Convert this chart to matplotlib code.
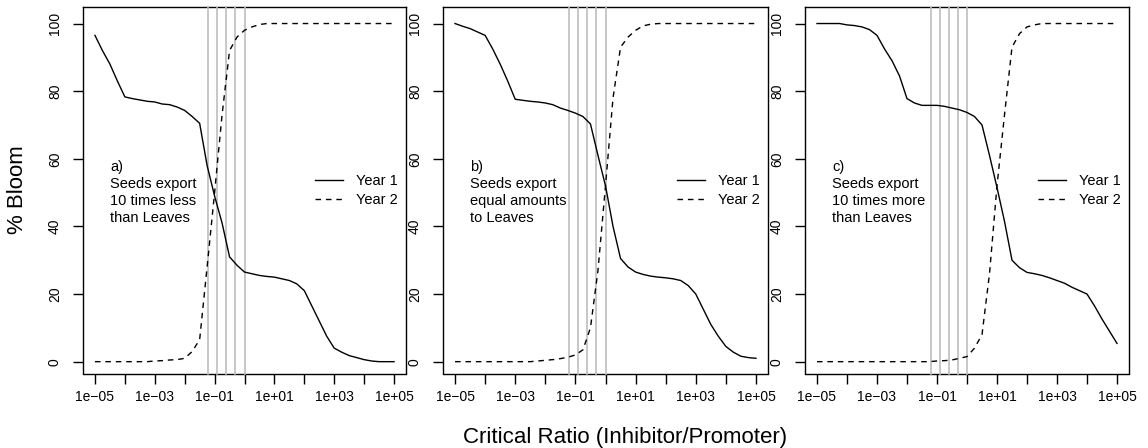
import matplotlib
matplotlib.use("Agg")
import matplotlib.pyplot as plt
import numpy as np

plt.rcParams['font.family'] = ['Liberation Sans', 'DejaVu Sans']

# log10 of Critical Ratio (sampling grid of the curves)
log_ratio = [-5, -4.75, -4.5, -4.25, -4, -3.75, -3.5, -3.25, -3, -2.75, -2.5,
             -2.25, -2, -1.75, -1.5, -1.25, -1, -0.75, -0.5, -0.25, 0,
             0.25, 0.5, 0.75, 1, 1.25, 1.5, 1.75, 2, 2.25, 2.5,
             2.75, 3, 3.25, 3.5, 3.75, 4, 4.25, 4.5, 4.75, 5]

a_year1 = [96.5, 92, 88, 83, 78.3, 77.8, 77.4, 77, 76.8, 76.2, 76,
           75.3, 74.3, 72.5, 70.5, 58, 49, 41, 31, 28.5, 26.5,
           26, 25.5, 25.2, 25, 24.5, 24, 23, 21, 16.5, 12,
           7.5, 4, 2.8, 1.8, 1.2, 0.6, 0.2, 0, 0, 0]
a_year2 = [0, 0, 0, 0, 0, 0, 0, 0, 0.2, 0.3, 0.5,
           0.6, 1, 3, 6.5, 28, 50, 73, 92, 96, 98,
           99, 99.7, 100, 100, 100, 100, 100, 100, 100, 100,
           100, 100, 100, 100, 100, 100, 100, 100, 100, 100]

b_year1 = [100, 99.2, 98.5, 97.5, 96.5, 92.5, 88, 83, 77.6, 77.3, 77,
           76.8, 76.5, 76, 75, 74.3, 73.5, 72.5, 70.3, 61, 52,
           40, 30.5, 28, 26.5, 25.8, 25.3, 25, 24.8, 24.5, 24,
           22.5, 20, 15.5, 11, 7.5, 4.5, 2.8, 1.6, 1.2, 1]
b_year2 = [0, 0, 0, 0, 0, 0, 0, 0, 0, 0, 0,
           0.2, 0.4, 0.6, 0.9, 1.3, 2, 3.5, 10, 27, 52,
           78, 93, 96, 98, 99.3, 99.8, 100, 100, 100, 100,
           100, 100, 100, 100, 100, 100, 100, 100, 100, 100]

c_year1 = [100, 100, 100, 100, 99.6, 99.4, 99, 98.2, 96.5, 92.5, 89,
           84.5, 77.8, 76.5, 75.8, 75.8, 75.8, 75.5, 75, 74.5, 73.7,
           72.5, 70, 61, 51.5, 41.5, 30, 27.8, 26.4, 26, 25.5,
           24.8, 24, 23.2, 22, 21, 20, 16.5, 12.6, 9, 5.4]
c_year2 = [0, 0, 0, 0, 0, 0, 0, 0, 0, 0, 0,
           0, 0, 0, 0, 0, 0.2, 0.3, 0.5, 1, 1.5,
           4, 8, 26, 52, 73, 93, 97, 99, 99.6, 100,
           100, 100, 100, 100, 100, 100, 100, 100, 100, 100]

# reference ratios marked by grey vertical lines
ref_ratios = [0.0625, 0.125, 0.25, 0.5, 1]

panel_texts = ["a)\nSeeds export\n10 times less\nthan Leaves",
               "b)\nSeeds export\nequal amounts\nto Leaves",
               "c)\nSeeds export\n10 times more\nthan Leaves"]
series = [(a_year1, a_year2), (b_year1, b_year2), (c_year1, c_year2)]
legend_labels = ["Year 1", "Year 2"]

xtick_exps = list(range(-5, 6))
ytick_vals = [0, 20, 40, 60, 80, 100]

W, H = 1148, 448
fig = plt.figure(figsize=(W / 100, H / 100), dpi=100)

lefts = [83, 443, 805]
rights = [406, 768, 1129]
top_px, bot_px = 7.3, 373.5

x = [10.0 ** v for v in log_ratio]

for i in range(3):
    ax = fig.add_axes([lefts[i] / W, 1 - bot_px / H,
                       (rights[i] - lefts[i]) / W, (bot_px - top_px) / H])
    for r in ref_ratios:
        ax.axvline(r, color='#bebebe', lw=1.2, zorder=3, clip_on=False,
                   ymin=0, ymax=1)
    y1, y2 = series[i]
    ax.plot(x, y1, color='black', lw=1.0, label=legend_labels[0], zorder=4)
    ax.plot(x, y2, color='black', lw=1.0, dashes=(4, 3.5),
            label=legend_labels[1], zorder=4)
    ax.set_xscale('log')
    ax.set_xlim(10 ** -5.4, 10 ** 5.4)
    ax.set_ylim(-3.5, 104.8)
    ax.set_xticks([10.0 ** e for e in xtick_exps])
    ax.set_xticklabels([("1e%s%02d" % ("\u2212" if e < 0 else "+", abs(e)))
                        if (e % 2 == 1 or e % 2 == -1) else ""
                        for e in xtick_exps], fontsize=10)
    ax.minorticks_off()
    ax.set_yticks(ytick_vals)
    ax.set_yticklabels([str(v) for v in ytick_vals], fontsize=10,
                       rotation=90, va='center')
    ax.tick_params(axis='x', length=7.2, width=1.0, pad=5, direction='out')
    ax.tick_params(axis='y', length=7.2, width=1.0, pad=8, direction='out')
    for s in ax.spines.values():
        s.set_linewidth(1.0)
        s.set_zorder(2)
    ax.text(10 ** -4.5, 50, panel_texts[i], fontsize=10.5, ha='left',
            va='center', linespacing=1.27, zorder=5)
    leg = ax.legend(loc='center right', bbox_to_anchor=(0.975, 0.5),
                    frameon=False, fontsize=10.5, handlelength=1.9,
                    handletextpad=0.9, labelspacing=0.38, borderpad=0,
                    borderaxespad=0)

fig.text(18 / W, 1 - 190 / H, "% Bloom", rotation=90, ha='center',
         va='center', fontsize=16)
fig.text(625 / W, 1 - 437 / H, "Critical Ratio (Inhibitor/Promoter)",
         ha='center', va='center', fontsize=16)

fig.savefig("out.png", dpi=100)
